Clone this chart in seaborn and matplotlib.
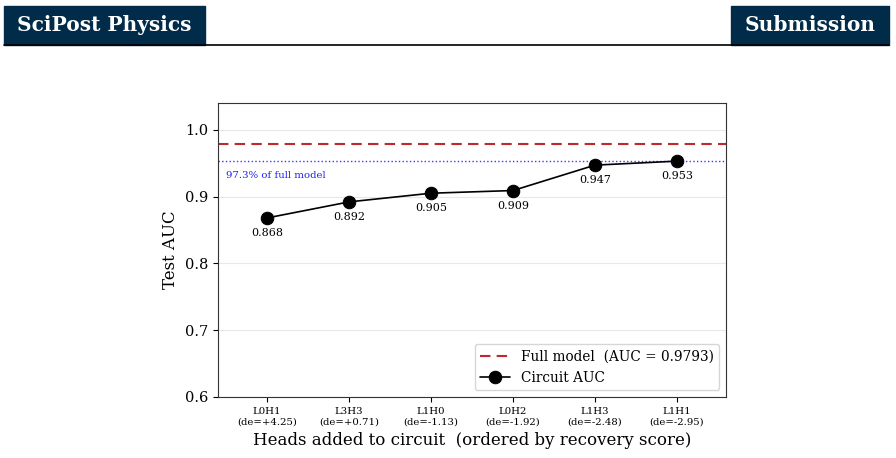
import matplotlib
matplotlib.use("Agg")
import matplotlib.pyplot as plt
import seaborn as sns
import pandas as pd

heads = ["L0H1", "L3H3", "L1H0", "L0H2", "L1H3", "L1H1"]
de_scores = ["+4.25", "+0.71", "-1.13", "-1.92", "-2.48", "-2.95"]
circuit_auc = [0.868, 0.892, 0.905, 0.909, 0.947, 0.953]
full_auc = 0.9793
recovery_frac = 0.973

sns.set_style("ticks")
plt.rcParams['font.family'] = ['DejaVu Serif']
plt.rcParams['text.color'] = 'black'
plt.rcParams['axes.labelcolor'] = 'black'
plt.rcParams['xtick.color'] = 'black'
plt.rcParams['ytick.color'] = 'black'

df = pd.DataFrame({"step": range(len(heads)), "auc": circuit_auc})

fig = plt.figure(figsize=(8.96, 4.58), dpi=100)
ax = fig.add_axes([0.2433, 0.1332, 0.5670, 0.6419])

# page header of the paper
navy = "#002b49"
fig.patches.append(plt.Rectangle((4 / 896, 1 - 45 / 458), 201 / 896, 39 / 458,
                                 transform=fig.transFigure, color=navy, zorder=0))
fig.patches.append(plt.Rectangle((731 / 896, 1 - 45 / 458), 158 / 896, 39 / 458,
                                 transform=fig.transFigure, color=navy, zorder=0))
fig.add_artist(plt.Line2D([4 / 896, 889 / 896], [1 - 45 / 458, 1 - 45 / 458],
                          transform=fig.transFigure, color="black", lw=1.2))
fig.text(104 / 896, 1 - 25 / 458, "SciPost Physics", color="white", fontsize=14.5,
         fontweight="bold", ha="center", va="center", family="DejaVu Serif")
fig.text(810 / 896, 1 - 25 / 458, "Submission", color="white", fontsize=14.5,
         fontweight="bold", ha="center", va="center", family="DejaVu Serif")

ax.axhline(full_auc, color="#c0282d", ls=(0, (5, 3)), lw=1.5,
           label=f"Full model  (AUC = {full_auc:.4f})")
ax.axhline(full_auc * recovery_frac, color="#3a3aff", ls=":", lw=1.0)
ax.text(-0.5, 0.931, f"{recovery_frac * 100:.1f}% of full model", color="#1f1ff5",
        fontsize=7.3, va="center", ha="left")

sns.lineplot(data=df, x="step", y="auc", color="black", marker="o", markersize=9,
             markeredgecolor="black", lw=1.2, label="Circuit AUC", ax=ax)

for i, v in enumerate(circuit_auc):
    ax.annotate(f"{v:.3f}", (i, v), xytext=(0, -11), textcoords="offset points",
                ha="center", va="center", fontsize=8)

ax.set_xlim(-0.6, 5.6)
ax.set_ylim(0.6, 1.04)
ax.set_yticks([0.6, 0.7, 0.8, 0.9, 1.0])
ax.set_xticks(range(len(heads)))
ax.set_xticklabels([f"{h}\n(de={d})" for h, d in zip(heads, de_scores)], fontsize=7.3)
ax.tick_params(axis="y", labelsize=10.5)
ax.yaxis.grid(True, color="#e8e8e8", lw=0.8)
ax.set_axisbelow(True)
for s in ax.spines.values():
    s.set_color("#333333")
    s.set_linewidth(0.8)

ax.set_xlabel("Heads added to circuit  (ordered by recovery score)", fontsize=12)
ax.set_ylabel("Test AUC", fontsize=12)
ax.legend(loc="lower right", fontsize=9.8, frameon=True, edgecolor="#cccccc",
          fancybox=True, handlelength=2.2)

fig.savefig("out.png", dpi=100)
